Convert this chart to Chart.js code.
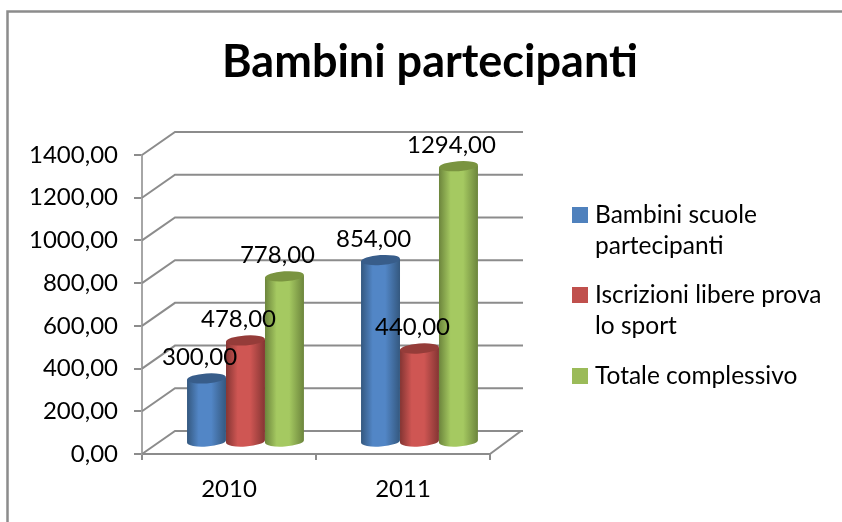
<!DOCTYPE html>
<html>
<head>
<meta charset="utf-8">
<title>Bambini partecipanti</title>
<script src="https://cdn.jsdelivr.net/npm/chart.js@4/dist/chart.umd.min.js"></script>
<style>
    html, body { margin: 0; padding: 0; background: #fff; overflow: hidden; }
    canvas { display: block; }
</style>
</head>
<body>
<canvas id="chart" width="842" height="522"></canvas>
<script>
const years = ['2010', '2011'];
const scuole = [300, 854];
const iscrizioni = [478, 440];
const totale = [778, 1294];
const seriesNames = [
    ['Bambini scuole', 'partecipanti'],
    ['Iscrizioni libere prova', 'lo sport'],
    ['Totale complessivo']
];
const seriesColors = ['#4f81bd', '#c0504d', '#9bbb59'];
const chartTitle = 'Bambini partecipanti';

// colori del cilindro: bordo, centro, tappo
const shades = [
    ['#34587f', '#5286c6', '#385d8a'],
    ['#843533', '#cf5653', '#953c39'],
    ['#6c853c', '#a5c961', '#7a9440']
];

const FONT = 'Lato, sans-serif';
const GREY = '#8c8c8c';
const DEPTH_X = 33, DEPTH_Y = -23;

function fmt(v) {
    return v.toFixed(2).replace('.', ',');
}

function drawWalls(chart) {
    const c = chart.ctx, a = chart.chartArea, y = chart.scales.y;
    c.save();
    c.strokeStyle = GREY;
    c.lineWidth = 2;
    y.ticks.forEach(t => {
        const py = y.getPixelForValue(t.value);
        c.beginPath();
        c.moveTo(a.left, py);
        c.lineTo(a.left + DEPTH_X, py + DEPTH_Y);
        c.lineTo(a.right + DEPTH_X, py + DEPTH_Y);
        c.stroke();
    });
    c.beginPath();
    c.moveTo(a.right, a.bottom);
    c.lineTo(a.right + DEPTH_X - 2, a.bottom + DEPTH_Y);
    c.stroke();
    c.restore();
}

function drawCylinder(c, bar, colors) {
    const dx = DEPTH_X / 2, dy = DEPTH_Y / 2;
    const l = bar.x - bar.width / 2 + dx, r = bar.x + bar.width / 2 + dx;
    const cx = bar.x + dx, rx = bar.width / 2, ry = 5, tilt = -0.07;
    const top = bar.y + dy, base = bar.base + dy;

    const g = c.createLinearGradient(l, 0, r, 0);
    g.addColorStop(0, colors[0]);
    g.addColorStop(0.3, colors[1]);
    g.addColorStop(0.62, colors[1]);
    g.addColorStop(1, colors[0]);

    c.fillStyle = g;
    c.beginPath();
    c.moveTo(l, top + 1);
    c.lineTo(l, base + 1);
    c.ellipse(cx, base, rx, ry, tilt, Math.PI, 0, true);
    c.lineTo(r, top - 1);
    c.closePath();
    c.fill();

    c.fillStyle = colors[2];
    c.beginPath();
    c.ellipse(cx, top, rx, ry, tilt, 0, Math.PI * 2);
    c.fill();
}

const scena = {
    id: 'scena',
    beforeDraw(chart) {
        const c = chart.ctx;
        c.save();
        c.fillStyle = '#fff';
        c.fillRect(0, 0, chart.width, chart.height);
        c.strokeStyle = GREY;
        c.lineWidth = 2.5;
        c.beginPath();
        c.moveTo(7.5, chart.height);
        c.lineTo(7.5, 11.5);
        c.lineTo(chart.width, 11.5);
        c.stroke();

        c.fillStyle = '#000';
        c.textAlign = 'center';
        c.textBaseline = 'middle';
        c.font = 'bold 45px ' + FONT;
        c.fillText(chartTitle, 430, 62);
        c.restore();
    },
    beforeDatasetsDraw(chart) {
        const c = chart.ctx;
        drawWalls(chart);
        c.save();
        chart.data.datasets.forEach((ds, i) => {
            chart.getDatasetMeta(i).data.forEach(bar => drawCylinder(c, bar, shades[i]));
        });

        // etichette dei valori
        c.fillStyle = '#000';
        c.font = '24px ' + FONT;
        c.textAlign = 'center';
        c.textBaseline = 'middle';
        chart.data.datasets.forEach((ds, i) => {
            chart.getDatasetMeta(i).data.forEach((bar, j) => {
                c.fillText(fmt(ds.data[j]), bar.x + DEPTH_X / 2 - 7, bar.y + DEPTH_Y / 2 - 21);
            });
        });

        // legenda
        const rows = [207, 287, 368];
        c.textAlign = 'left';
        c.font = '24.5px ' + FONT;
        seriesNames.forEach((lines, i) => {
            c.fillStyle = seriesColors[i];
            c.fillRect(572, rows[i], 16, 16);
            c.fillStyle = '#000';
            lines.forEach((t, k) => c.fillText(t, 595, rows[i] + 8 + k * 31.5));
        });
        c.restore();
        return false;
    }
};

new Chart(document.getElementById('chart'), {
    type: 'bar',
    data: {
        labels: years,
        datasets: [
            { label: seriesNames[0].join(' '), data: scuole, backgroundColor: seriesColors[0] },
            { label: seriesNames[1].join(' '), data: iscrizioni, backgroundColor: seriesColors[1] },
            { label: seriesNames[2].join(' '), data: totale, backgroundColor: seriesColors[2] }
        ]
    },
    options: {
        responsive: false,
        animation: false,
        layout: { padding: { top: 155, right: 352, left: 0, bottom: 0 } },
        categoryPercentage: 0.672,
        barPercentage: 1,
        plugins: { legend: { display: false }, title: { display: false }, tooltip: { enabled: false } },
        scales: {
            x: {
                afterFit(s) { s.height = 68; },
                border: { color: GREY, width: 2 },
                grid: { drawOnChartArea: false, color: GREY, tickLength: 6, lineWidth: 2 },
                ticks: { color: '#000', font: { family: FONT, size: 24 }, padding: 15, maxRotation: 0 }
            },
            y: {
                min: 0,
                max: 1400,
                afterFit(s) { s.width = 142; },
                border: { color: '#a6a6a6', width: 2 },
                grid: { drawOnChartArea: false, color: GREY, tickLength: 8, lineWidth: 2 },
                ticks: { color: '#000', font: { family: FONT, size: 24 }, padding: 16, stepSize: 200, callback: v => fmt(v) }
            }
        }
    },
    plugins: [scena]
});
</script>
</body>
</html>
